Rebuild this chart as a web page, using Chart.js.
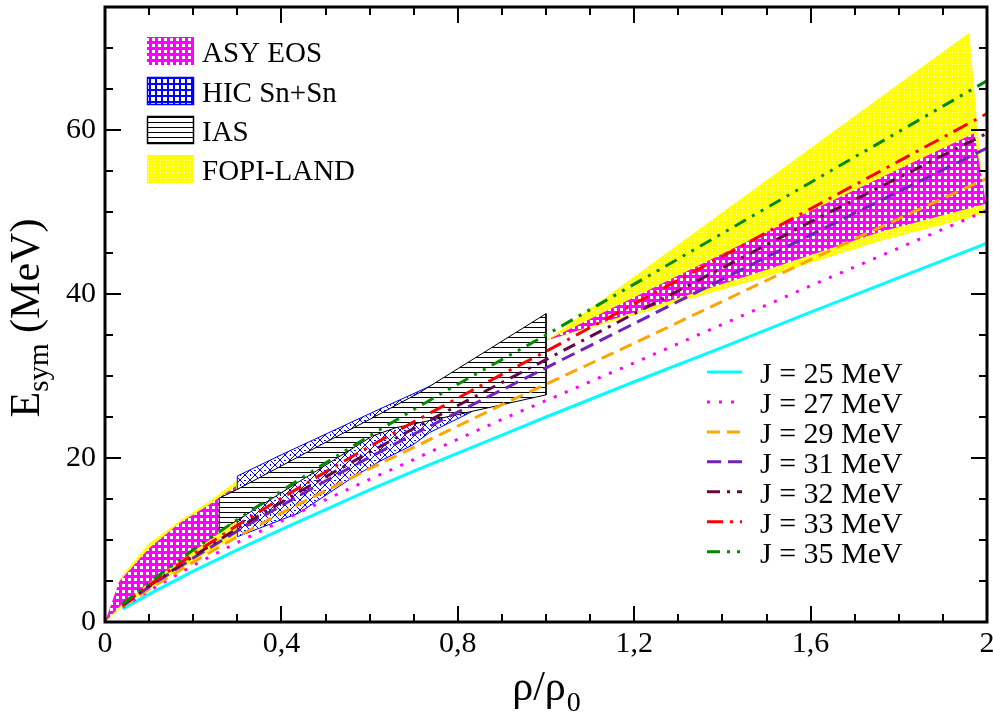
<!DOCTYPE html>
<html>
<head>
<meta charset="utf-8">
<script src="https://cdn.jsdelivr.net/npm/chart.js@4.4.0/dist/chart.umd.min.js"></script>
<style>
  html, body { margin: 0; padding: 0; background: #fff; }
  #wrap { width: 993px; height: 713px; }
</style>
</head>
<body>
<div id="wrap"><canvas id="chart" width="993" height="713"></canvas></div>
<script>
// density grid (rho / rho0) for the J curves
const rho = [0.04, 0.1, 0.2, 0.3, 0.4, 0.5, 0.6, 0.7, 0.8, 0.9, 1.0, 1.2, 1.4, 1.6, 1.8, 2.0];

// Esym (MeV) for each J
const esymJ25 = [1.6, 3.4, 6.2, 8.8, 11.3, 13.7, 16.1, 18.4, 20.6, 22.8, 25.0, 29.3, 33.5, 37.8, 42.0, 46.2];
const esymJ27 = [1.8, 3.8, 6.9, 9.7, 12.3, 14.9, 17.4, 19.8, 22.3, 24.7, 27.0, 31.6, 36.3, 41.0, 45.6, 50.2];
const esymJ29 = [1.9, 4.0, 7.3, 10.4, 13.3, 16.0, 18.7, 21.3, 23.9, 26.5, 29.0, 34.0, 39.1, 44.2, 49.2, 54.1];
const esymJ31 = [2.0, 4.3, 7.8, 11.1, 14.2, 17.2, 20.1, 22.9, 25.6, 28.3, 31.0, 36.4, 41.8, 47.2, 52.5, 57.8];
const esymJ32 = [2.0, 4.4, 8.0, 11.4, 14.6, 17.7, 20.7, 23.6, 26.4, 29.2, 32.0, 37.6, 43.2, 48.8, 54.2, 59.6];
const esymJ33 = [2.1, 4.5, 8.3, 11.8, 15.1, 18.3, 21.4, 24.4, 27.3, 30.2, 33.0, 38.8, 44.6, 50.4, 56.2, 62.0];
const esymJ35 = [2.2, 4.8, 8.8, 12.5, 16.0, 19.4, 22.7, 25.9, 29.0, 32.0, 35.0, 41.2, 47.4, 53.6, 59.8, 66.0];

const jNames = ['J = 25 MeV', 'J = 27 MeV', 'J = 29 MeV', 'J = 31 MeV', 'J = 32 MeV', 'J = 33 MeV', 'J = 35 MeV'];
const jSeries = [esymJ25, esymJ27, esymJ29, esymJ31, esymJ32, esymJ33, esymJ35];

// constraint bands, [rho, Esym] edges
const fopiLeftUpper = [[0, 0], [0.036, 5.5], [0.1, 9.6], [0.168, 12.3], [0.236, 14.7], [0.30, 17.3]];
const fopiLeftLower = [[0, 0], [0.04, 1.9], [0.1, 4.0], [0.2, 7.4], [0.30, 10.6]];
const asyLeftUpper = [[0, 0], [0.032, 4.9], [0.1, 9.0], [0.168, 12.0], [0.236, 14.3], [0.297, 16.6]];
const asyLeftLower = [[0, 0], [0.04, 2.3], [0.1, 4.8], [0.2, 8.6], [0.297, 12.3]];
const fopiRightUpper = [[1.0, 34.3], [1.96, 71.9]];
const fopiRightLower = [[1.0, 34.3], [1.5, 42.1], [1.76, 46.5], [1.995, 49.8]];
const asyRightUpper = [[1.0, 34.3], [1.509, 47.8], [1.971, 59.6]];
const asyRightLower = [[1.0, 34.3], [1.509, 43.1], [1.759, 47.6], [1.998, 51.0]];
const hicUpper = [[0.30, 17.8], [0.40, 20.4], [0.52, 23.4], [0.62, 25.9], [0.714, 28.2], [0.83, 31.0]];
const hicLower = [[0.30, 10.4], [0.44, 13.3], [0.555, 17.4], [0.623, 19.6], [0.698, 21.6], [0.736, 23.1], [0.83, 25.6]];
const iasUpper = [[0.259, 15.1], [0.301, 16.2], [0.50, 21.9], [0.60, 24.7], [0.714, 28.0], [1.0, 37.6]];
const iasLower = [[0.259, 11.05], [0.607, 22.7], [0.66, 23.7], [0.80, 25.3], [1.0, 27.7]];

const bandNames = ['ASY EOS', 'HIC Sn+Sn', 'IAS', 'FOPI-LAND'];

// axes
const xTickValues = [0, 0.4, 0.8, 1.2, 1.6, 2];
const xTickLabels = ['0', '0,4', '0,8', '1,2', '1,6', '2'];
const yTickValues = [0, 20, 40, 60];
const yTickLabels = ['0', '20', '40', '60'];

// line looks
const jColors = ['#00ffff', '#ff00ff', '#ffa500', '#7221bc', '#670748', '#ff0000', '#008b00'];
const jDashes = [[], [3, 9], [13, 7], [14, 7], [13, 7, 3, 7], [16, 7, 3, 7], [13, 7, 3, 7, 3, 7]];

const SERIF = '"Liberation Serif", "Times New Roman", serif';
const canvas = document.getElementById('chart');
const ctx0 = canvas.getContext('2d');

function makePattern(w, h, paint) {
    const c = document.createElement('canvas');
    c.width = w;
    c.height = h;
    paint(c.getContext('2d'), w, h);
    return ctx0.createPattern(c, 'repeat');
}

const asyPattern = makePattern(6, 6, g => {
    g.fillStyle = '#ff00ff'; g.fillRect(0, 0, 6, 6);
    g.fillStyle = '#ffffff'; g.fillRect(2, 2, 3, 3);
});
const fopiPattern = makePattern(3, 3, g => {
    g.fillStyle = '#ffff00'; g.fillRect(0, 0, 3, 3);
    g.fillStyle = '#ffffc0'; g.fillRect(1, 1, 1, 1);
});
const hicPattern = makePattern(10, 10, g => {
    g.fillStyle = '#ffffff'; g.fillRect(0, 0, 10, 10);
    g.strokeStyle = '#0000ff'; g.lineWidth = 1;
    g.beginPath();
    g.moveTo(0, 0); g.lineTo(10, 10);
    g.moveTo(10, 0); g.lineTo(0, 10);
    g.stroke();
    g.fillStyle = '#0000ff';
    g.fillRect(4, 0, 2, 1);
    g.fillRect(0, 4, 1, 2);
});
const hicLegendPattern = makePattern(6, 6, g => {
    g.fillStyle = '#0000ff'; g.fillRect(0, 0, 6, 6);
    g.fillStyle = '#ffffff'; g.fillRect(1, 1, 4, 4);
});
const iasPattern = makePattern(5, 5, g => {
    g.fillStyle = '#ffffff'; g.fillRect(0, 0, 5, 5);
    g.fillStyle = '#000000'; g.fillRect(0, 2, 5, 1);
});

function polygon(upper, lower) {
    const pts = upper.concat(lower.slice().reverse());
    pts.push(upper[0]);
    return pts.map(p => ({x: p[0], y: p[1]}));
}

function curve(values) {
    return rho.map((r, i) => ({x: r, y: values[i]}));
}

function band(label, upper, lower, pattern, border, order) {
    return {
        label: label,
        data: polygon(upper, lower),
        showLine: true,
        fill: 'shape',
        backgroundColor: pattern,
        borderColor: border || 'rgba(0,0,0,0)',
        borderWidth: border ? 1 : 0,
        pointRadius: 0,
        order: order
    };
}

const datasets = [
    band('FOPI-LAND', fopiLeftUpper, fopiLeftLower, fopiPattern, null, 20),
    band('ASY EOS', asyLeftUpper, asyLeftLower, asyPattern, null, 19),
    band('FOPI-LAND', fopiRightUpper, fopiRightLower, fopiPattern, null, 18),
    band('ASY EOS', asyRightUpper, asyRightLower, asyPattern, null, 17),
    band('HIC Sn+Sn', hicUpper, hicLower, hicPattern, '#0000ff', 16),
    band('IAS', iasUpper, iasLower, iasPattern, '#000000', 15)
];

jSeries.forEach((vals, i) => {
    datasets.push({
        label: jNames[i],
        data: curve(vals),
        showLine: true,
        fill: false,
        borderColor: jColors[i],
        borderWidth: 3,
        borderDash: jDashes[i],
        pointRadius: 0,
        order: 7 - i
    });
});

// ticks inside the frame, legends and axis titles
const decor = {
    id: 'decor',
    afterDraw(chart) {
        const {ctx, chartArea: a, scales: {x, y}} = chart;
        ctx.save();

        ctx.strokeStyle = '#000';
        ctx.lineWidth = 2;
        ctx.beginPath();
        for (let i = 0; i <= 20; i++) {
            const px = Math.round(x.getPixelForValue(i / 10));
            const len = i % 4 === 0 ? 16 : 8;
            ctx.moveTo(px, a.bottom); ctx.lineTo(px, a.bottom - len);
            ctx.moveTo(px, a.top); ctx.lineTo(px, a.top + len);
        }
        for (let v = 0; v <= 75; v += 5) {
            const py = Math.round(y.getPixelForValue(v));
            const len = v % 20 === 0 ? 16 : 8;
            ctx.moveTo(a.left, py); ctx.lineTo(a.left + len, py);
            ctx.moveTo(a.right, py); ctx.lineTo(a.right - len, py);
        }
        ctx.stroke();

        ctx.lineWidth = 3;
        ctx.strokeRect(a.left, a.top, a.right - a.left, a.bottom - a.top);

        // band legend
        const fills = [asyPattern, hicLegendPattern, iasPattern, fopiPattern];
        const edges = [null, '#0000ff', '#000000', null];
        const boxTops = [37, 77, 116, 155];
        ctx.font = '29px ' + SERIF;
        ctx.textBaseline = 'alphabetic';
        ctx.textAlign = 'left';
        bandNames.forEach((name, i) => {
            ctx.fillStyle = fills[i];
            ctx.fillRect(147, boxTops[i], 47, 28);
            if (edges[i]) {
                ctx.strokeStyle = edges[i];
                ctx.lineWidth = 1.5;
                ctx.strokeRect(147.5, boxTops[i] + 0.5, 46, 27);
            }
            ctx.fillStyle = '#000';
            ctx.fillText(name, 202, boxTops[i] + 25);
        });

        // line legend
        ctx.font = '30px ' + SERIF;
        jNames.forEach((name, i) => {
            const cy = 372 + i * 29.95;
            ctx.strokeStyle = jColors[i];
            ctx.lineWidth = 3;
            ctx.setLineDash(jDashes[i]);
            ctx.beginPath();
            ctx.moveTo(707, cy);
            ctx.lineTo(742, cy);
            ctx.stroke();
            ctx.setLineDash([]);
            ctx.fillStyle = '#000';
            ctx.fillText(name, 760, cy + 11);
        });

        // x title: rho/rho_0
        ctx.fillStyle = '#000';
        ctx.font = '42px ' + SERIF;
        const main = 'ρ/ρ';
        const wMain = ctx.measureText(main).width;
        ctx.font = '28px ' + SERIF;
        const wSub = ctx.measureText('0').width;
        const sx = (a.left + a.right) / 2 - (wMain + wSub) / 2;
        ctx.font = '42px ' + SERIF;
        ctx.fillText(main, sx, 700);
        ctx.font = '28px ' + SERIF;
        ctx.fillText('0', sx + wMain + 1, 711);

        // y title: E_sym (MeV)
        ctx.save();
        ctx.translate(39, 318);
        ctx.rotate(-Math.PI / 2);
        ctx.font = '42px ' + SERIF;
        const wE = ctx.measureText('E').width;
        const wRest = ctx.measureText(' (MeV)').width;
        ctx.font = '29px ' + SERIF;
        const wSym = ctx.measureText('sym').width;
        const tx = -(wE + wSym + wRest) / 2;
        ctx.font = '42px ' + SERIF;
        ctx.fillText('E', tx, 0);
        ctx.font = '29px ' + SERIF;
        ctx.fillText('sym', tx + wE, 9);
        ctx.font = '42px ' + SERIF;
        ctx.fillText(' (MeV)', tx + wE + wSym, 0);
        ctx.restore();

        ctx.restore();
    }
};

new Chart(canvas, {
    type: 'scatter',
    data: {datasets: datasets},
    options: {
        responsive: false,
        animation: false,
        devicePixelRatio: 1,
        layout: {padding: {left: 0, right: 6, top: 7, bottom: 0}},
        plugins: {
            legend: {display: false},
            tooltip: {enabled: false}
        },
        scales: {
            x: {
                type: 'linear',
                min: 0,
                max: 2,
                grid: {display: false, drawTicks: false},
                border: {display: false},
                afterBuildTicks: s => { s.ticks = xTickValues.map(v => ({value: v})); },
                afterFit: s => { s.height = 91; s.paddingLeft = 0; s.paddingRight = 0; },
                ticks: {
                    callback: (v, i) => xTickLabels[i],
                    font: {family: SERIF, size: 30},
                    color: '#000',
                    padding: 4,
                    maxRotation: 0,
                    autoSkip: false
                }
            },
            y: {
                type: 'linear',
                min: 0,
                max: 75,
                grid: {display: false, drawTicks: false},
                border: {display: false},
                afterBuildTicks: s => { s.ticks = yTickValues.map(v => ({value: v})); },
                afterFit: s => { s.width = 105; s.paddingTop = 0; s.paddingBottom = 0; },
                ticks: {
                    callback: (v, i) => yTickLabels[i],
                    font: {family: SERIF, size: 30},
                    color: '#000',
                    padding: 9,
                    autoSkip: false
                }
            }
        }
    },
    plugins: [decor]
});
</script>
</body>
</html>
